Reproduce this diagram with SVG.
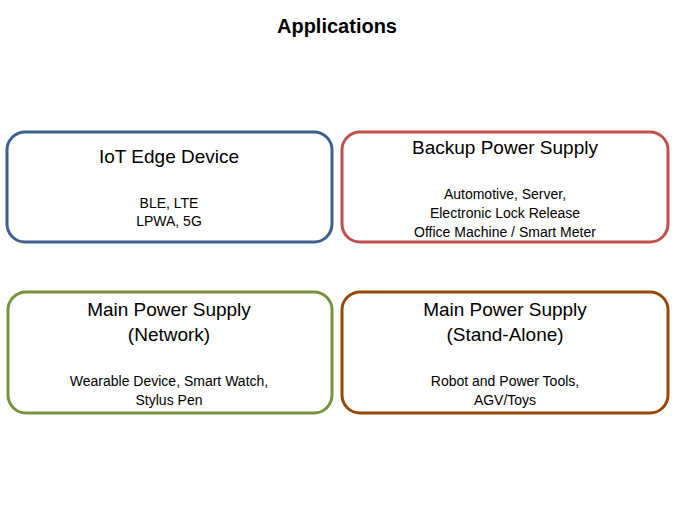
<svg xmlns="http://www.w3.org/2000/svg" width="675" height="506" viewBox="0 0 675 506">
<style>
.b{fill:#fff;stroke-width:3}
.t{font-family:"Liberation Sans",Arial,sans-serif;font-size:19px;text-anchor:middle;fill:#000}
.s{font-family:"Liberation Sans",Arial,sans-serif;font-size:14px;text-anchor:middle;fill:#000}
</style>
<rect width="675" height="506" fill="#fff"/>
<text x="337" y="33" font-family="Liberation Sans,Arial,sans-serif" font-size="20" font-weight="bold" text-anchor="middle">Applications</text>
<g id="iot"><rect class="b" x="7" y="132" width="325" height="110" rx="18" stroke="#3F5F8F"/>
<text class="t" x="169" y="163">IoT Edge Device</text>
<text class="s" x="169" y="208">BLE, LTE</text><text class="s" x="169" y="226">LPWA, 5G</text></g>
<g id="backup"><rect class="b" x="342" y="132" width="326" height="110" rx="18" stroke="#C0504D"/>
<text class="t" x="505" y="154">Backup Power Supply</text>
<text class="s" x="505" y="199">Automotive, Server,</text><text class="s" x="505" y="218">Electronic Lock Release</text><text class="s" x="505" y="237">Office Machine / Smart Meter</text></g>
<g id="network"><rect class="b" x="8" y="292" width="324" height="121" rx="18" stroke="#77933C"/>
<text class="t" x="169" y="316">Main Power Supply</text><text class="t" x="169" y="341">(Network)</text>
<text class="s" x="169" y="386">Wearable Device, Smart Watch,</text><text class="s" x="169" y="405">Stylus Pen</text></g>
<g id="standalone"><rect class="b" x="342" y="292" width="326" height="121" rx="18" stroke="#984807"/>
<text class="t" x="505" y="316">Main Power Supply</text><text class="t" x="505" y="341">(Stand-Alone)</text>
<text class="s" x="505" y="386">Robot and Power Tools,</text><text class="s" x="505" y="405">AGV/Toys</text></g>
<g id="connectors"></g>
</svg>
